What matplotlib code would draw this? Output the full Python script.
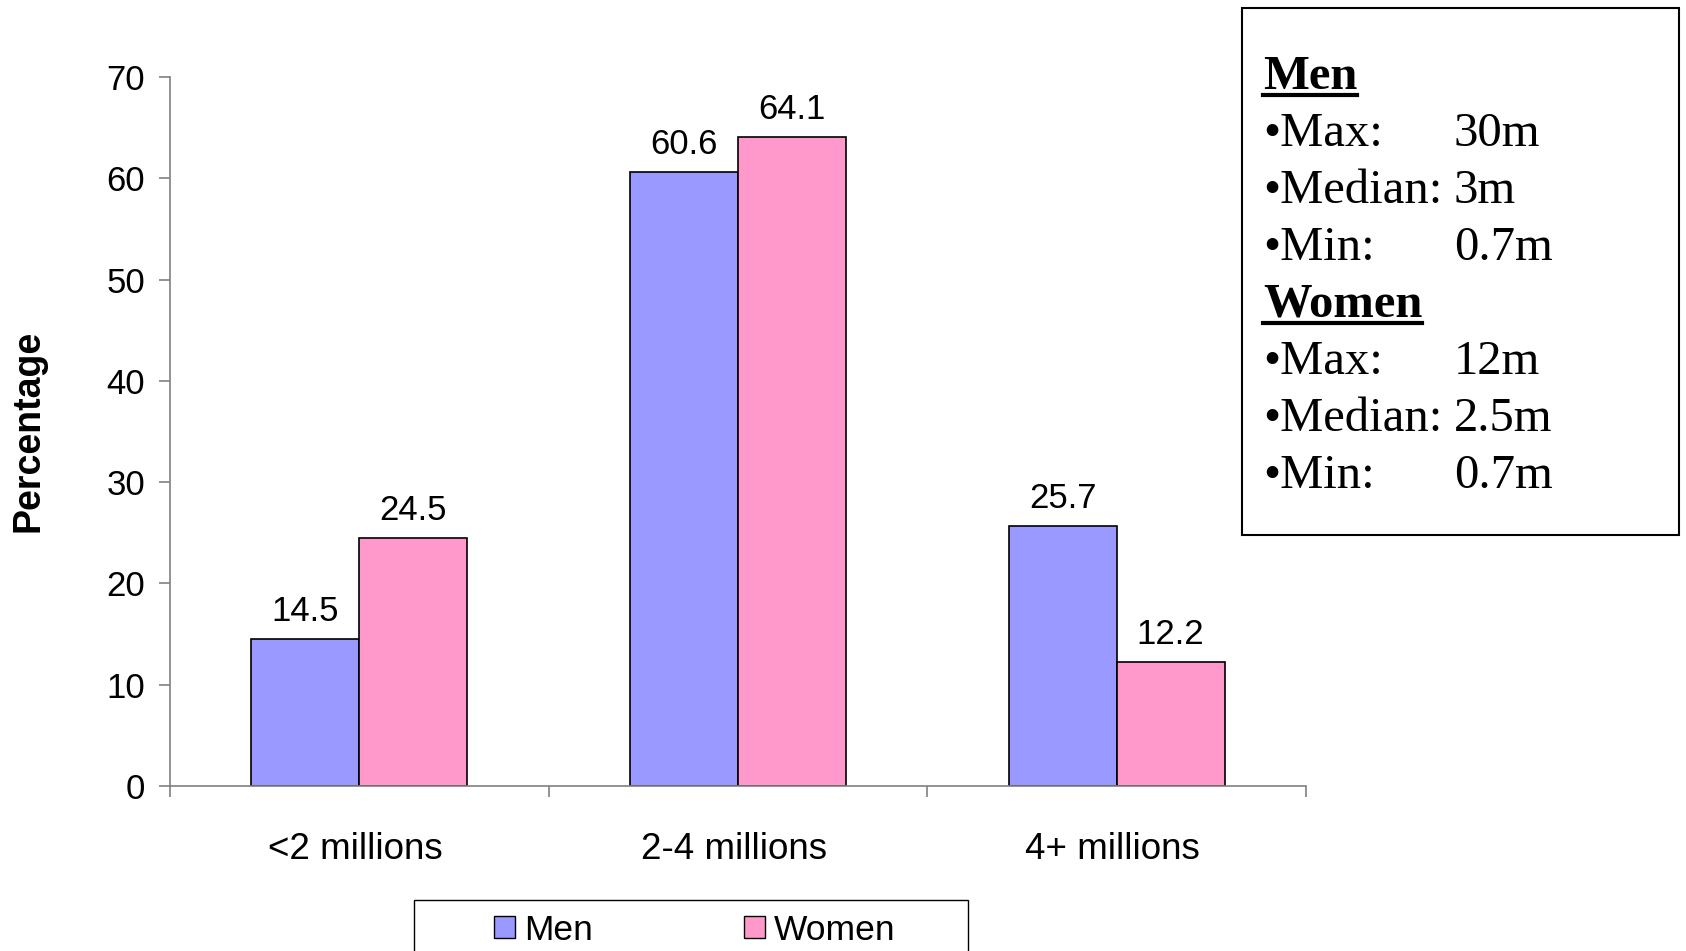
import matplotlib.pyplot as plt
import matplotlib.transforms as mtransforms
import numpy as np

categories = ['<2 millions', '2-4 millions', '4+ millions']
men = [14.5, 60.6, 25.7]
women = [24.5, 64.1, 12.2]
y_ticks = [0, 10, 20, 30, 40, 50, 60, 70]

box_men = [('Max:', '30m'), ('Median:', '3m'), ('Min:', '0.7m')]
box_women = [('Max:', '12m'), ('Median:', '2.5m'), ('Min:', '0.7m')]

W, H = 1686, 951
fig = plt.figure(figsize=(W / 100, H / 100), dpi=100)
ax = fig.add_axes([170 / W, 1 - 786 / H, 1136 / W, 709 / H])

sans = 'Liberation Sans'
serif = 'Liberation Serif'
men_col = '#9999FF'
women_col = '#FF99CC'
grey = '#808080'

x = np.arange(len(categories))
w = 0.285
b1 = ax.bar(x - w / 2, men, w, color=men_col, edgecolor='black', linewidth=1.2, label='Men')
b2 = ax.bar(x + w / 2, women, w, color=women_col, edgecolor='black', linewidth=1.2, label='Women')
for bars in (b1, b2):
    ax.bar_label(bars, labels=[f'{v:.1f}' for v in bars.datavalues], padding=8,
                 fontsize=25, fontfamily=sans)

ax.set_xlim(-0.5, 2.5)
ax.set_ylim(0, 70)
ax.set_yticks(y_ticks)
ax.set_yticklabels([str(t) for t in y_ticks], fontsize=25, fontfamily=sans)
ax.set_xticks(x)
ax.set_xticklabels(categories, fontsize=26.5, fontfamily=sans)
ax.set_xticks(np.arange(-0.5, 3, 1), minor=True)
ax.tick_params(axis='x', which='major', length=0, pad=33)
ax.tick_params(axis='x', which='minor', length=8, color=grey, width=1.2)
ax.tick_params(axis='y', length=8, color=grey, width=1.2, pad=10)
shift = mtransforms.ScaledTranslation(-3 / 72, 0, fig.dpi_scale_trans)
for lab in ax.get_xticklabels():
    lab.set_transform(lab.get_transform() + shift)
for s in ('top', 'right'):
    ax.spines[s].set_visible(False)
for s in ('left', 'bottom'):
    ax.spines[s].set_color(grey)
    ax.spines[s].set_linewidth(1.2)

fig.text(29 / W, 1 - 431 / H, 'Percentage', rotation=90, ha='center', va='center',
         fontsize=27, fontweight='bold', fontfamily=sans)

# legend: frame drawn separately so its size matches
leg = fig.legend(loc='center left', bbox_to_anchor=(494 / W, 1 - 930 / H), ncol=2,
                 frameon=False, prop={'family': sans, 'size': 25.5},
                 handlelength=0.6, handleheight=0.6, handletextpad=0.26,
                 columnspacing=4.25, borderpad=0, borderaxespad=0)
for h in leg.legend_handles:
    h.set_edgecolor('black')
    h.set_linewidth(1.0)
leg_frame = plt.Rectangle((414 / W, 1 - 965 / H), 554 / W, 65 / H, transform=fig.transFigure,
                          fill=False, edgecolor='black', linewidth=1.0)
fig.patches.append(leg_frame)

# stats box
box = plt.Rectangle((1242 / W, 1 - 535 / H), 437 / W, 527 / H, transform=fig.transFigure,
                    fill=False, edgecolor='black', linewidth=1.5)
fig.patches.append(box)

x0 = 1263 / W
x1 = 1454 / W
fs = 35
heads = []
y = 89
for title, rows in (('Men', box_men), ('Women', box_women)):
    t = fig.text(x0, 1 - y / H, title, fontsize=fs, fontweight='bold', fontfamily=serif,
                 va='baseline')
    heads.append((t, y))
    y += 57
    for k, v in rows:
        fig.text(x0, 1 - y / H, '\u2022' + k, fontsize=fs, fontfamily=serif, va='baseline')
        fig.text(x1, 1 - y / H, v, fontsize=fs, fontfamily=serif, va='baseline')
        y += 57

fig.canvas.draw()
r = fig.canvas.get_renderer()
for t, yb in heads:
    bb = t.get_window_extent(r)
    uy = 1 - (yb + 6) / H
    fig.add_artist(plt.Line2D([bb.x0 / W, bb.x1 / W], [uy, uy], transform=fig.transFigure,
                              color='black', linewidth=3))

fig.savefig('out.png', dpi=100)
